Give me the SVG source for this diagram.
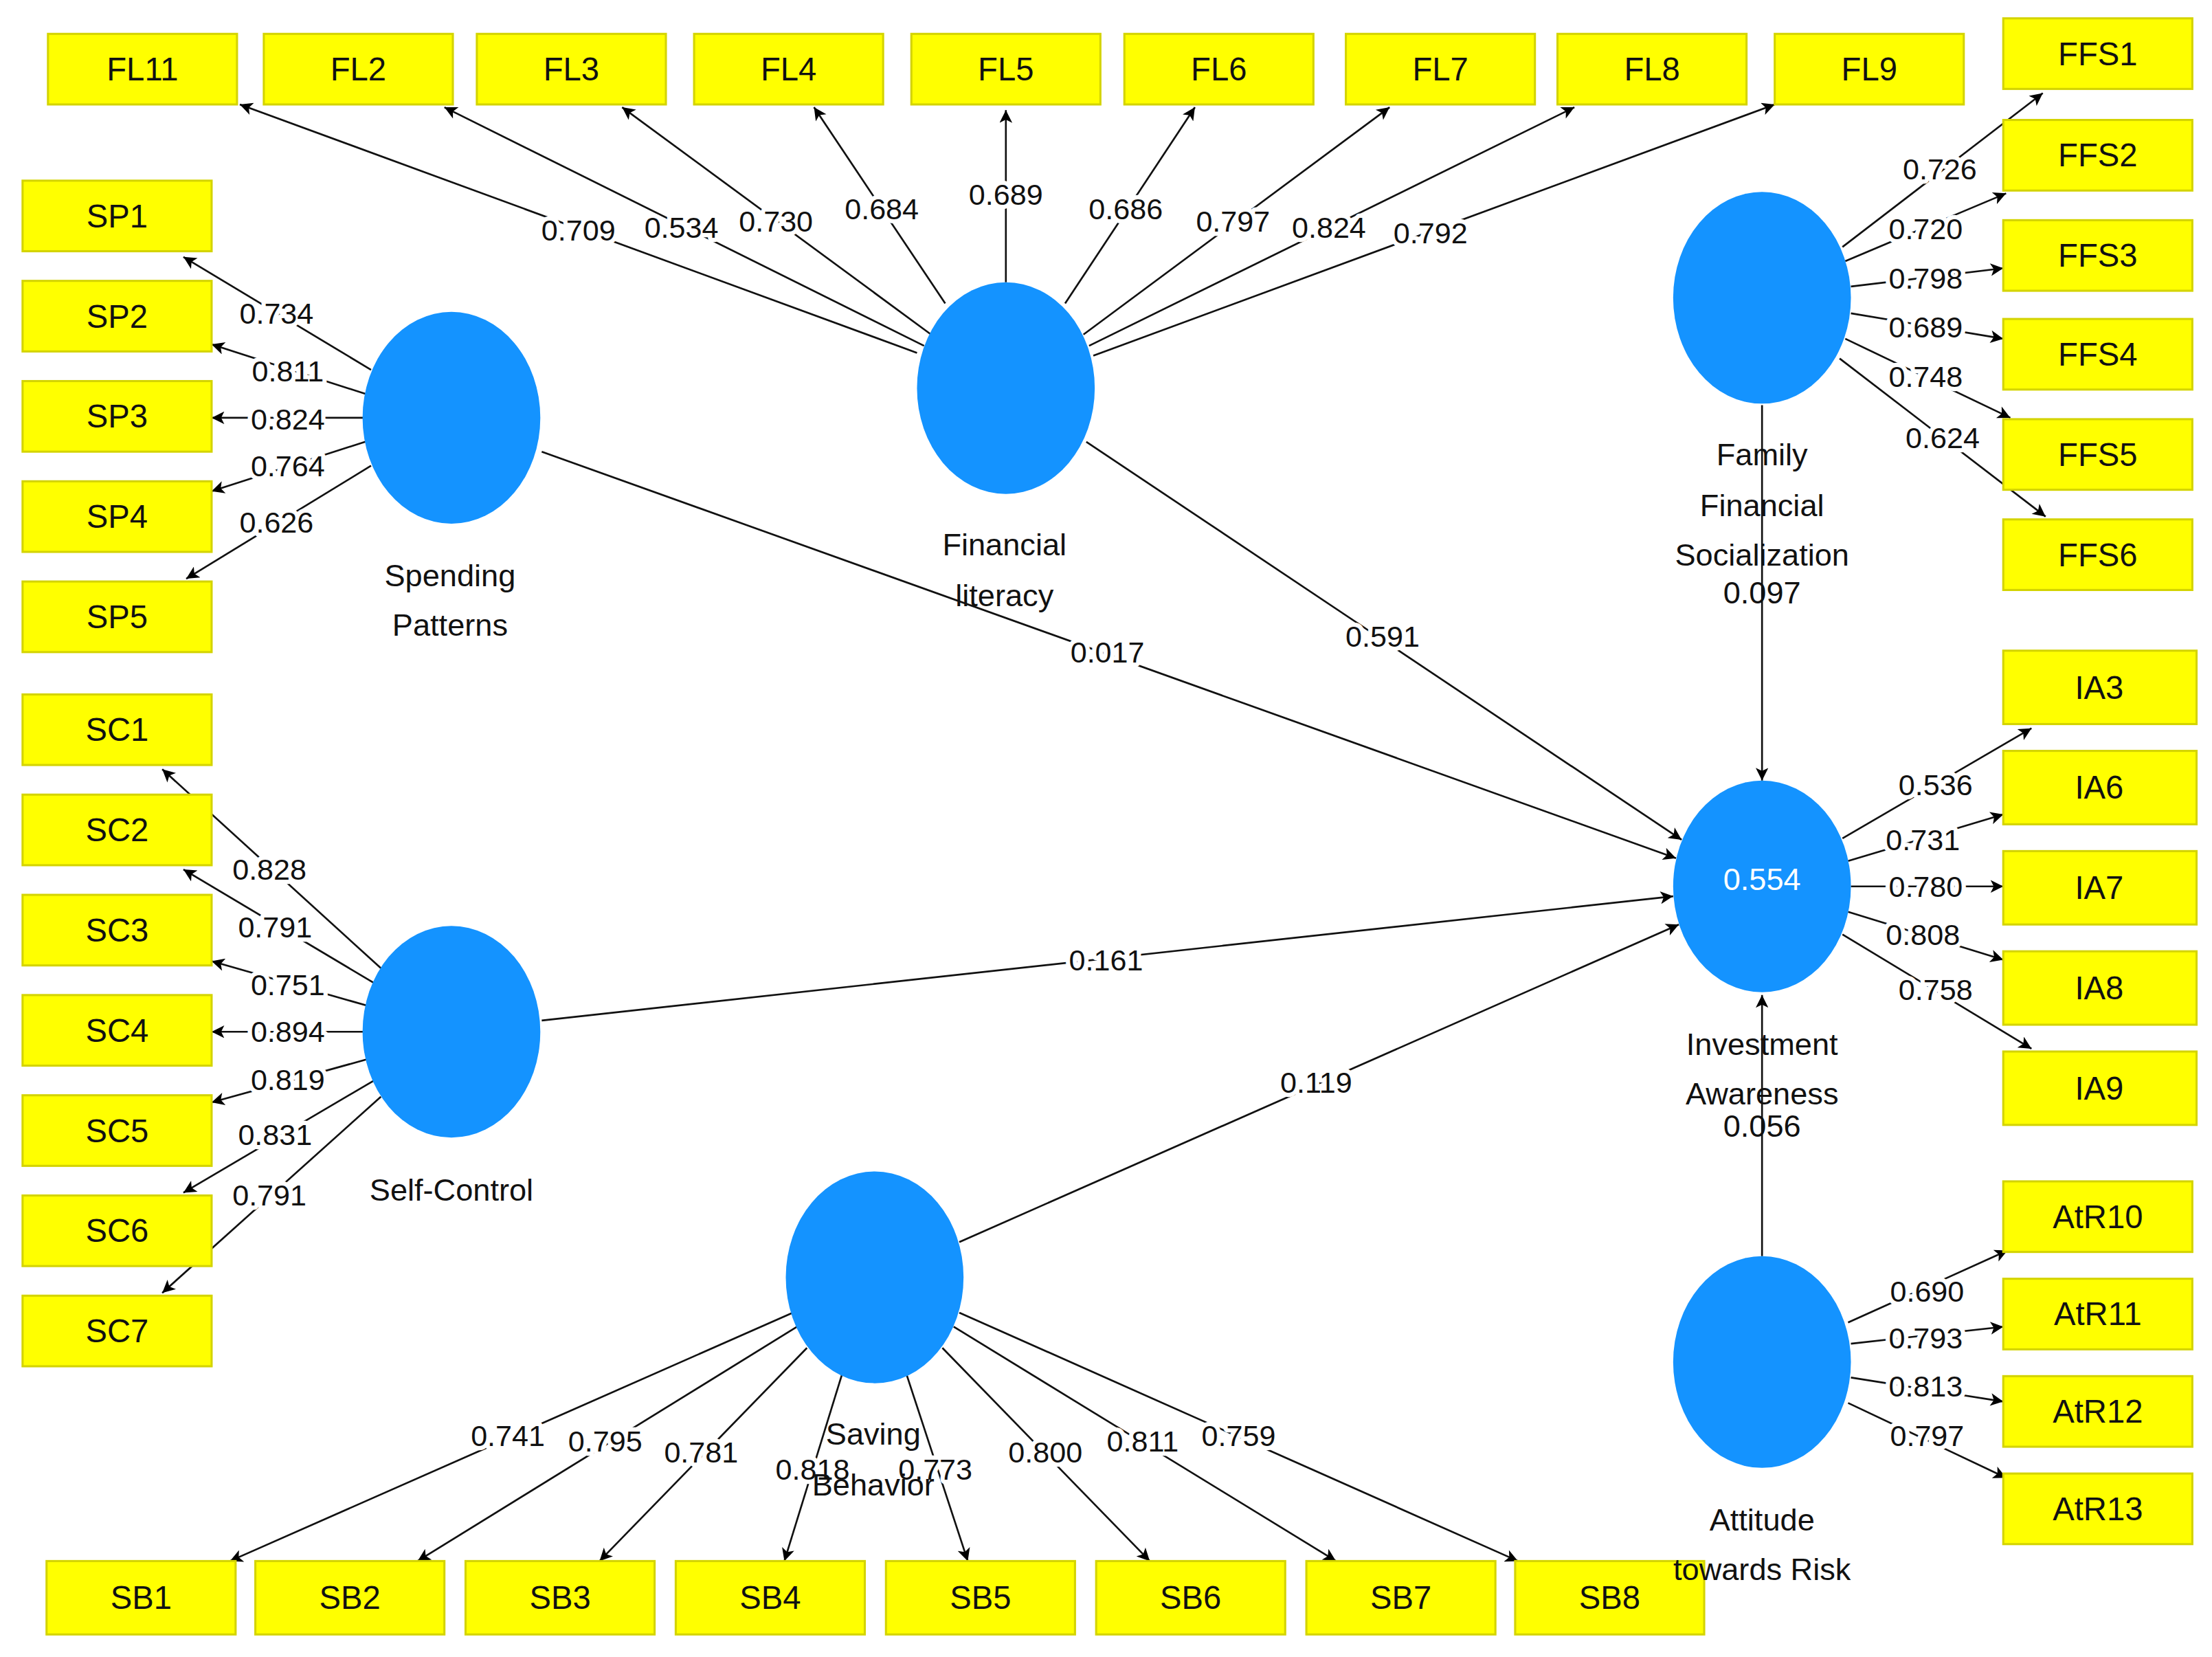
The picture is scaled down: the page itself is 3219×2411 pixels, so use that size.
<svg xmlns="http://www.w3.org/2000/svg" width="3219" height="2411" viewBox="0 0 3219 2411">
<defs>
<marker id="ah" viewBox="0 0 10 10" refX="10" refY="5" markerWidth="10" markerHeight="9" markerUnits="userSpaceOnUse" orient="auto"><path d="M0,0 L10,5 L0,10 L2.5,5 z" fill="#000"/></marker>
<style>
.box{fill:#ffff00;stroke:#d4d400;stroke-width:1.5}
.bt{font-family:"Liberation Sans",Arial,sans-serif;font-size:23px;fill:#111;text-anchor:middle;dominant-baseline:central}
.lv{fill:#1493ff}
.lt{font-family:"Liberation Sans",Arial,sans-serif;font-size:22px;fill:#111;text-anchor:middle;dominant-baseline:central}
.e{stroke:#111;stroke-width:1.3;fill:none;marker-end:url(#ah)}
.el{font-family:"Liberation Sans",Arial,sans-serif;font-size:21px;fill:#111;text-anchor:middle;dominant-baseline:central;stroke:#fff;stroke-width:6;paint-order:stroke;stroke-linejoin:round}
</style>
</defs>
<rect width="3219" height="2411" fill="#fff"/>
<g transform="scale(2.053,2.0537)">
<g id="connectors">
<line class="e" x1="650" y1="250" x2="170" y2="74"/><text class="el" x="410" y="163">0.709</text>
<line class="e" x1="655" y1="245" x2="315" y2="76"/><text class="el" x="483" y="161">0.534</text>
<line class="e" x1="660" y1="237" x2="441" y2="76"/><text class="el" x="550" y="157">0.730</text>
<line class="e" x1="670" y1="215" x2="577" y2="76"/><text class="el" x="625" y="148">0.684</text>
<line class="e" x1="713" y1="200" x2="713" y2="78"/><text class="el" x="713" y="138">0.689</text>
<line class="e" x1="755" y1="215" x2="847" y2="76"/><text class="el" x="798" y="148">0.686</text>
<line class="e" x1="768" y1="237" x2="985" y2="76"/><text class="el" x="874" y="157">0.797</text>
<line class="e" x1="772" y1="245" x2="1116" y2="76"/><text class="el" x="942" y="161">0.824</text>
<line class="e" x1="775" y1="252" x2="1258" y2="74"/><text class="el" x="1014" y="165">0.792</text>
<line class="e" x1="1306" y1="175" x2="1448" y2="66"/><text class="el" x="1375" y="120">0.726</text>
<line class="e" x1="1308" y1="185" x2="1422" y2="137"/><text class="el" x="1365" y="162">0.720</text>
<line class="e" x1="1312" y1="203" x2="1420" y2="190"/><text class="el" x="1365" y="197">0.798</text>
<line class="e" x1="1312" y1="222" x2="1420" y2="240"/><text class="el" x="1365" y="232">0.689</text>
<line class="e" x1="1308" y1="240" x2="1425" y2="296"/><text class="el" x="1365" y="267">0.748</text>
<line class="e" x1="1304" y1="254" x2="1450" y2="366"/><text class="el" x="1377" y="310">0.624</text>
<line class="e" x1="263" y1="262" x2="130" y2="182"/><text class="el" x="196" y="222">0.734</text>
<line class="e" x1="262" y1="280" x2="150" y2="244"/><text class="el" x="204" y="263">0.811</text>
<line class="e" x1="258" y1="296" x2="150" y2="296"/><text class="el" x="204" y="297">0.824</text>
<line class="e" x1="262" y1="312" x2="150" y2="348"/><text class="el" x="204" y="330">0.764</text>
<line class="e" x1="263" y1="330" x2="132" y2="410"/><text class="el" x="196" y="370">0.626</text>
<line class="e" x1="270" y1="686" x2="115" y2="545"/><text class="el" x="191" y="616">0.828</text>
<line class="e" x1="266" y1="697" x2="130" y2="616"/><text class="el" x="195" y="657">0.791</text>
<line class="e" x1="262" y1="713" x2="150" y2="681"/><text class="el" x="204" y="698">0.751</text>
<line class="e" x1="258" y1="731" x2="150" y2="731"/><text class="el" x="204" y="731">0.894</text>
<line class="e" x1="262" y1="750" x2="150" y2="781"/><text class="el" x="204" y="765">0.819</text>
<line class="e" x1="266" y1="765" x2="130" y2="845"/><text class="el" x="195" y="804">0.831</text>
<line class="e" x1="270" y1="777" x2="115" y2="916"/><text class="el" x="191" y="847">0.791</text>
<line class="e" x1="562" y1="930" x2="163" y2="1106"/><text class="el" x="360" y="1017">0.741</text>
<line class="e" x1="565" y1="940" x2="296" y2="1106"/><text class="el" x="429" y="1021">0.795</text>
<line class="e" x1="572" y1="955" x2="425" y2="1106"/><text class="el" x="497" y="1029">0.781</text>
<line class="e" x1="598" y1="970" x2="556" y2="1106"/><text class="el" x="576" y="1041">0.818</text>
<line class="e" x1="642" y1="972" x2="686" y2="1106"/><text class="el" x="663" y="1041">0.773</text>
<line class="e" x1="668" y1="955" x2="815" y2="1106"/><text class="el" x="741" y="1029">0.800</text>
<line class="e" x1="676" y1="940" x2="947" y2="1106"/><text class="el" x="810" y="1021">0.811</text>
<line class="e" x1="680" y1="930" x2="1076" y2="1106"/><text class="el" x="878" y="1017">0.759</text>
<line class="e" x1="1306" y1="594" x2="1440" y2="516"/><text class="el" x="1372" y="556">0.536</text>
<line class="e" x1="1310" y1="610" x2="1420" y2="577"/><text class="el" x="1363" y="595">0.731</text>
<line class="e" x1="1312" y1="628" x2="1420" y2="628"/><text class="el" x="1365" y="628">0.780</text>
<line class="e" x1="1310" y1="646" x2="1420" y2="680"/><text class="el" x="1363" y="662">0.808</text>
<line class="e" x1="1306" y1="662" x2="1440" y2="743"/><text class="el" x="1372" y="701">0.758</text>
<line class="e" x1="1310" y1="937" x2="1423" y2="886"/><text class="el" x="1366" y="915">0.690</text>
<line class="e" x1="1312" y1="952" x2="1420" y2="940"/><text class="el" x="1365" y="948">0.793</text>
<line class="e" x1="1312" y1="976" x2="1420" y2="993"/><text class="el" x="1365" y="982">0.813</text>
<line class="e" x1="1310" y1="994" x2="1422" y2="1047"/><text class="el" x="1366" y="1017">0.797</text>
<line class="e" x1="384" y1="320" x2="1188" y2="608"/><text class="el" x="785" y="462">0.017</text>
<line class="e" x1="770" y1="313" x2="1192" y2="595"/><text class="el" x="980" y="451">0.591</text>
<line class="e" x1="1249" y1="287" x2="1249" y2="553"/>
<line class="e" x1="384" y1="723" x2="1186" y2="635"/><text class="el" x="784" y="680">0.161</text>
<line class="e" x1="680" y1="880" x2="1190" y2="655"/><text class="el" x="933" y="767">0.119</text>
<line class="e" x1="1249" y1="890" x2="1249" y2="705"/>
</g>
<g id="FL11"><rect class="box" x="34" y="24" width="134" height="50"/><text class="bt" x="101" y="49">FL11</text></g>
<g id="FL2"><rect class="box" x="187" y="24" width="134" height="50"/><text class="bt" x="254" y="49">FL2</text></g>
<g id="FL3"><rect class="box" x="338" y="24" width="134" height="50"/><text class="bt" x="405" y="49">FL3</text></g>
<g id="FL4"><rect class="box" x="492" y="24" width="134" height="50"/><text class="bt" x="559" y="49">FL4</text></g>
<g id="FL5"><rect class="box" x="646" y="24" width="134" height="50"/><text class="bt" x="713" y="49">FL5</text></g>
<g id="FL6"><rect class="box" x="797" y="24" width="134" height="50"/><text class="bt" x="864" y="49">FL6</text></g>
<g id="FL7"><rect class="box" x="954" y="24" width="134" height="50"/><text class="bt" x="1021" y="49">FL7</text></g>
<g id="FL8"><rect class="box" x="1104" y="24" width="134" height="50"/><text class="bt" x="1171" y="49">FL8</text></g>
<g id="FL9"><rect class="box" x="1258" y="24" width="134" height="50"/><text class="bt" x="1325" y="49">FL9</text></g>
<g id="FFS1"><rect class="box" x="1420" y="13" width="134" height="50"/><text class="bt" x="1487" y="38">FFS1</text></g>
<g id="FFS2"><rect class="box" x="1420" y="85" width="134" height="50"/><text class="bt" x="1487" y="110">FFS2</text></g>
<g id="FFS3"><rect class="box" x="1420" y="156" width="134" height="50"/><text class="bt" x="1487" y="181">FFS3</text></g>
<g id="FFS4"><rect class="box" x="1420" y="226" width="134" height="50"/><text class="bt" x="1487" y="251">FFS4</text></g>
<g id="FFS5"><rect class="box" x="1420" y="297" width="134" height="50"/><text class="bt" x="1487" y="322">FFS5</text></g>
<g id="FFS6"><rect class="box" x="1420" y="368" width="134" height="50"/><text class="bt" x="1487" y="393">FFS6</text></g>
<g id="SP1"><rect class="box" x="16" y="128" width="134" height="50"/><text class="bt" x="83" y="153">SP1</text></g>
<g id="SP2"><rect class="box" x="16" y="199" width="134" height="50"/><text class="bt" x="83" y="224">SP2</text></g>
<g id="SP3"><rect class="box" x="16" y="270" width="134" height="50"/><text class="bt" x="83" y="295">SP3</text></g>
<g id="SP4"><rect class="box" x="16" y="341" width="134" height="50"/><text class="bt" x="83" y="366">SP4</text></g>
<g id="SP5"><rect class="box" x="16" y="412" width="134" height="50"/><text class="bt" x="83" y="437">SP5</text></g>
<g id="SC1"><rect class="box" x="16" y="492" width="134" height="50"/><text class="bt" x="83" y="517">SC1</text></g>
<g id="SC2"><rect class="box" x="16" y="563" width="134" height="50"/><text class="bt" x="83" y="588">SC2</text></g>
<g id="SC3"><rect class="box" x="16" y="634" width="134" height="50"/><text class="bt" x="83" y="659">SC3</text></g>
<g id="SC4"><rect class="box" x="16" y="705" width="134" height="50"/><text class="bt" x="83" y="730">SC4</text></g>
<g id="SC5"><rect class="box" x="16" y="776" width="134" height="50"/><text class="bt" x="83" y="801">SC5</text></g>
<g id="SC6"><rect class="box" x="16" y="847" width="134" height="50"/><text class="bt" x="83" y="872">SC6</text></g>
<g id="SC7"><rect class="box" x="16" y="918" width="134" height="50"/><text class="bt" x="83" y="943">SC7</text></g>
<g id="IA3"><rect class="box" x="1420" y="461" width="137" height="52"/><text class="bt" x="1488" y="487">IA3</text></g>
<g id="IA6"><rect class="box" x="1420" y="532" width="137" height="52"/><text class="bt" x="1488" y="558">IA6</text></g>
<g id="IA7"><rect class="box" x="1420" y="603" width="137" height="52"/><text class="bt" x="1488" y="629">IA7</text></g>
<g id="IA8"><rect class="box" x="1420" y="674" width="137" height="52"/><text class="bt" x="1488" y="700">IA8</text></g>
<g id="IA9"><rect class="box" x="1420" y="745" width="137" height="52"/><text class="bt" x="1488" y="771">IA9</text></g>
<g id="AtR10"><rect class="box" x="1420" y="837" width="134" height="50"/><text class="bt" x="1487" y="862">AtR10</text></g>
<g id="AtR11"><rect class="box" x="1420" y="906" width="134" height="50"/><text class="bt" x="1487" y="931">AtR11</text></g>
<g id="AtR12"><rect class="box" x="1420" y="975" width="134" height="50"/><text class="bt" x="1487" y="1000">AtR12</text></g>
<g id="AtR13"><rect class="box" x="1420" y="1044" width="134" height="50"/><text class="bt" x="1487" y="1069">AtR13</text></g>
<g id="SB1"><rect class="box" x="33" y="1106" width="134" height="52"/><text class="bt" x="100" y="1132">SB1</text></g>
<g id="SB2"><rect class="box" x="181" y="1106" width="134" height="52"/><text class="bt" x="248" y="1132">SB2</text></g>
<g id="SB3"><rect class="box" x="330" y="1106" width="134" height="52"/><text class="bt" x="397" y="1132">SB3</text></g>
<g id="SB4"><rect class="box" x="479" y="1106" width="134" height="52"/><text class="bt" x="546" y="1132">SB4</text></g>
<g id="SB5"><rect class="box" x="628" y="1106" width="134" height="52"/><text class="bt" x="695" y="1132">SB5</text></g>
<g id="SB6"><rect class="box" x="777" y="1106" width="134" height="52"/><text class="bt" x="844" y="1132">SB6</text></g>
<g id="SB7"><rect class="box" x="926" y="1106" width="134" height="52"/><text class="bt" x="993" y="1132">SB7</text></g>
<g id="SB8"><rect class="box" x="1074" y="1106" width="134" height="52"/><text class="bt" x="1141" y="1132">SB8</text></g>
<g id="SpendingPatterns"><ellipse class="lv" cx="320" cy="296" rx="63" ry="75"/><text class="lt" x="319" y="408">Spending</text><text class="lt" x="319" y="443">Patterns</text></g>
<g id="FinancialLiteracy"><ellipse class="lv" cx="713" cy="275" rx="63" ry="75"/><text class="lt" x="712" y="386">Financial</text><text class="lt" x="712" y="422">literacy</text></g>
<g id="FFS"><ellipse class="lv" cx="1249" cy="211" rx="63" ry="75"/><text class="lt" x="1249" y="322">Family</text><text class="lt" x="1249" y="358">Financial</text><text class="lt" x="1249" y="393">Socialization</text><text class="lt" x="1249" y="420">0.097</text></g>
<g id="SelfControl"><ellipse class="lv" cx="320" cy="731" rx="63" ry="75"/><text class="lt" x="320" y="843">Self-Control</text></g>
<g id="SavingBehavior"><ellipse class="lv" cx="620" cy="905" rx="63" ry="75"/><text class="lt" x="619" y="1016">Saving</text><text class="lt" x="619" y="1052">Behavior</text></g>
<g id="InvestmentAwareness"><ellipse class="lv" cx="1249" cy="628" rx="63" ry="75"/><text class="lt" x="1249" y="623" style="fill:#fff">0.554</text><text class="lt" x="1249" y="740">Investment</text><text class="lt" x="1249" y="775">Awareness</text><text class="lt" x="1249" y="798">0.056</text></g>
<g id="AttitudeTowardsRisk"><ellipse class="lv" cx="1249" cy="965" rx="63" ry="75"/><text class="lt" x="1249" y="1077">Attitude</text><text class="lt" x="1249" y="1112">towards Risk</text></g>
</g>
</svg>
